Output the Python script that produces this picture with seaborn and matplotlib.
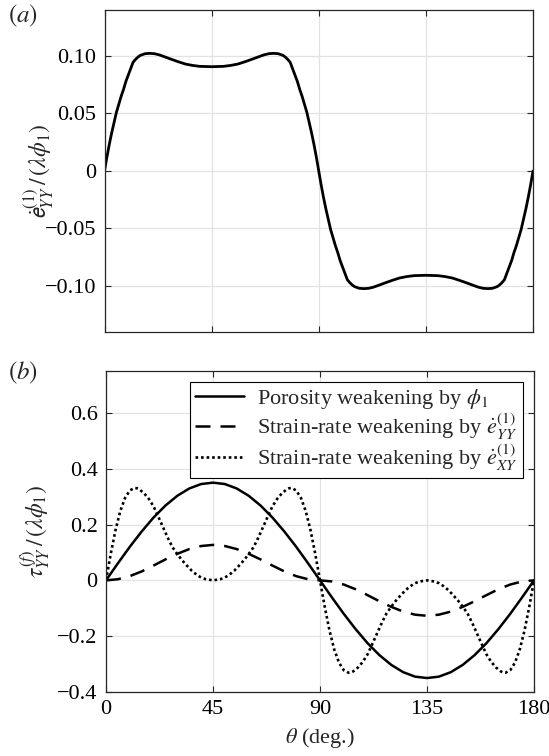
import matplotlib
matplotlib.use("Agg")
import matplotlib.pyplot as plt
import seaborn as sns

# ---------------- data ----------------
theta_a = [0, 1, 2, 3, 4, 5, 6, 7, 8, 9, 10, 11, 12, 13, 14, 15, 17, 19, 21, 23, 25,
           28, 31, 34, 37, 40, 45, 50, 53, 56, 59, 62, 65, 67, 69, 71, 73, 75,
           76, 77, 78, 79, 80, 81, 82, 83, 84, 85, 86, 87, 88, 89, 90,
           91, 92, 93, 94, 95, 96, 97, 98, 99, 100, 101, 102, 103, 104, 105,
           107, 109, 111, 113, 115, 118, 121, 124, 127, 130, 135,
           140, 143, 146, 149, 152, 155, 157, 159, 161, 163, 165,
           166, 167, 168, 169, 170, 171, 172, 173, 174, 175, 176, 177, 178, 179, 180]
e_yy = [0, 0.012, 0.023, 0.033, 0.042, 0.051, 0.058, 0.065, 0.071, 0.078, 0.0835, 0.089,
        0.0945, 0.097, 0.099, 0.1005, 0.102, 0.1023, 0.102, 0.101, 0.0995,
        0.0972, 0.095, 0.093, 0.0918, 0.091, 0.0907, 0.091, 0.0918, 0.093, 0.095, 0.0972, 0.0995,
        0.101, 0.102, 0.1023, 0.102, 0.1005,
        0.099, 0.097, 0.0945, 0.089, 0.0835, 0.078, 0.071, 0.065, 0.058, 0.051, 0.042, 0.033, 0.023, 0.012, 0,
        -0.012, -0.023, -0.033, -0.042, -0.051, -0.058, -0.065, -0.071, -0.078, -0.0835, -0.089,
        -0.0945, -0.097, -0.099, -0.1005,
        -0.102, -0.1023, -0.102, -0.101, -0.0995, -0.0972, -0.095, -0.093, -0.0918, -0.091, -0.0907,
        -0.091, -0.0918, -0.093, -0.095, -0.0972, -0.0995, -0.101, -0.102, -0.1023, -0.102, -0.1005,
        -0.099, -0.097, -0.0945, -0.089, -0.0835, -0.078, -0.071, -0.065, -0.058, -0.051, -0.042,
        -0.033, -0.023, -0.012, 0]

theta_b = [0, 5, 10, 15, 20, 25, 30, 35, 40, 45, 50, 55, 60, 65, 70, 75, 80, 85, 90,
           95, 100, 105, 110, 115, 120, 125, 130, 135, 140, 145, 150, 155, 160, 165, 170, 175, 180]
tau_porosity = [0, 0.061, 0.120, 0.175, 0.225, 0.268, 0.303, 0.329, 0.345, 0.350, 0.345, 0.329,
                0.303, 0.268, 0.225, 0.175, 0.120, 0.061, 0,
                -0.061, -0.120, -0.175, -0.225, -0.268, -0.303, -0.329, -0.345, -0.350, -0.345,
                -0.329, -0.303, -0.268, -0.225, -0.175, -0.120, -0.061, 0]
tau_eyy = [0, 0.004, 0.015, 0.032, 0.053, 0.075, 0.095, 0.112, 0.123, 0.127, 0.123, 0.112,
           0.095, 0.075, 0.053, 0.032, 0.015, 0.004, 0,
           -0.004, -0.015, -0.032, -0.053, -0.075, -0.095, -0.112, -0.123, -0.127, -0.123,
           -0.112, -0.095, -0.075, -0.053, -0.032, -0.015, -0.004, 0]

theta_c = [0, 2, 4, 6, 8, 10, 12, 13, 14, 16, 18, 20, 22, 24, 26, 28, 30, 32, 34, 36, 38, 40, 42, 45,
           48, 50, 52, 54, 56, 58, 60, 62, 64, 66, 68, 70, 72, 74, 76, 77, 78, 80, 82, 84, 86, 88, 90,
           92, 94, 96, 98, 100, 102, 103, 104, 106, 108, 110, 112, 114, 116, 118, 120, 122, 124, 126,
           128, 130, 132, 135, 138, 140, 142, 144, 146, 148, 150, 152, 154, 156, 158, 160, 162, 164,
           166, 167, 168, 170, 172, 174, 176, 178, 180]
tau_exy = [0, 0.095, 0.18, 0.248, 0.295, 0.322, 0.331, 0.330, 0.326, 0.312, 0.292, 0.265, 0.228,
           0.19, 0.152, 0.118, 0.094, 0.072, 0.053, 0.035, 0.021, 0.010, 0.004, 0,
           0.004, 0.010, 0.021, 0.035, 0.053, 0.072, 0.094, 0.118, 0.152, 0.19, 0.228, 0.265, 0.292,
           0.312, 0.326, 0.330, 0.331, 0.322, 0.295, 0.248, 0.18, 0.095, 0,
           -0.095, -0.18, -0.248, -0.295, -0.322, -0.331, -0.330, -0.326, -0.312, -0.292, -0.265,
           -0.228, -0.19, -0.152, -0.118, -0.094, -0.072, -0.053, -0.035, -0.021, -0.010, -0.004, 0,
           -0.004, -0.010, -0.021, -0.035, -0.053, -0.072, -0.094, -0.118, -0.152, -0.19, -0.228,
           -0.265, -0.292, -0.312, -0.326, -0.330, -0.331, -0.322, -0.295, -0.248, -0.18, -0.095, 0]

x_ticks = [0, 45, 90, 135, 180]
x_ticklabels = ["0", "45", "90", "135", "180"]
ya_ticks = [-0.10, -0.05, 0, 0.05, 0.10]
ya_ticklabels = ["\u22120.10", "\u22120.05", "0", "0.05", "0.10"]
yb_ticks = [-0.4, -0.2, 0, 0.2, 0.4, 0.6]
yb_ticklabels = ["\u22120.4", "\u22120.2", "0", "0.2", "0.4", "0.6"]
legend_labels = ["Porosity weakening by $\\phi_1$",
                 "Strain-rate weakening by $\\dot{e}^{(1)}_{YY}$",
                 "Strain-rate weakening by $\\dot{e}^{(1)}_{XY}$"]

# ---------------- style ----------------
sns.set_theme(style="whitegrid")
plt.rcParams["font.family"] = ["Liberation Serif", "DejaVu Serif"]
plt.rcParams["mathtext.fontset"] = "stix"
plt.rcParams["axes.unicode_minus"] = True

W, H = 549, 756
fig = plt.figure(figsize=(W / 100, H / 100), dpi=100)
fig.patch.set_facecolor("white")
ax1 = fig.add_axes([104.5 / W, 1 - 332 / H, 428.5 / W, 322 / H])
ax2 = fig.add_axes([106 / W, 1 - 692 / H, 428 / W, 321 / H])

spine_c = "#262626"
for ax in (ax1, ax2):
    ax.set_facecolor("white")
    for s in ax.spines.values():
        s.set_visible(True)
        s.set_color(spine_c)
        s.set_linewidth(0.9)
    ax.grid(True, color="#e2e2e2", linewidth=0.9)
    ax.tick_params(direction="in", length=4, width=0.8, color=spine_c,
                   labelcolor="black", top=True, right=True, bottom=True, left=True,
                   labelsize=16, pad=6)
    ax.set_xlim(0, 180)
    ax.set_xticks(x_ticks)

# ---------------- panel (a) ----------------
sns.lineplot(x=theta_a, y=e_yy, ax=ax1, color="black", linewidth=2.0,
             estimator=None, sort=False)
ax1.set_ylim(-0.14, 0.14)
ax1.set_yticks(ya_ticks)
ax1.set_yticklabels(ya_ticklabels)
ax1.tick_params(labelbottom=False)
ax1.set_ylabel(r"$\dot{\mathsf{e}}^{(1)}_{YY}\,/\,(\lambda\phi_1)$", fontsize=17)
ax1.yaxis.set_label_coords(-0.113, 0.5)

# ---------------- panel (b) ----------------
sns.lineplot(x=theta_b, y=tau_porosity, ax=ax2, color="black", linewidth=1.8,
             estimator=None, sort=False, label=legend_labels[0])
sns.lineplot(x=theta_b, y=tau_eyy, ax=ax2, color="black", linewidth=1.8,
             estimator=None, sort=False, label=legend_labels[1], linestyle=(0, (6, 4)))
sns.lineplot(x=theta_c, y=tau_exy, ax=ax2, color="black", linewidth=1.9,
             estimator=None, sort=False, label=legend_labels[2], linestyle=(0, (1, 1.1)))
ax2.set_ylim(-0.4, 0.75)
ax2.set_yticks(yb_ticks)
ax2.set_yticklabels(yb_ticklabels)
ax2.set_xticklabels(x_ticklabels)
ax2.set_ylabel(r"$\tau^{(f)}_{YY}\,/\,(\lambda\phi_1)$", fontsize=17)
ax2.yaxis.set_label_coords(-0.125, 0.5)
ax2.set_xlabel(r"$\theta$ (deg.)", fontsize=16)
ax2.xaxis.set_label_coords(0.5, -0.105)

leg = ax2.legend(loc="upper right", fontsize=16, frameon=True, fancybox=False,
                 framealpha=1, edgecolor="black", borderaxespad=0.5,
                 handlelength=2.2, handletextpad=0.6, labelspacing=0.02, borderpad=0.22)
leg.get_frame().set_linewidth(0.8)

fig.text(0.015, 0.979, r"$(a)$", fontsize=18, va="center", ha="left")
fig.text(0.015, 0.507, r"$(b)$", fontsize=18, va="center", ha="left")

fig.savefig("out.png", dpi=100, facecolor="white")
